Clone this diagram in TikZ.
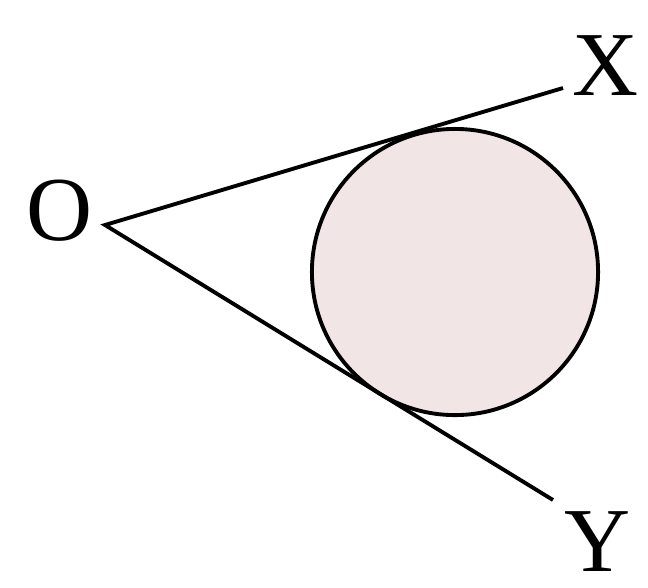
\documentclass[tikz,border=0pt]{standalone}
\usepackage{fontspec}
\setmainfont{Liberation Serif}
\usetikzlibrary{positioning}
\definecolor{discfill}{RGB}{241,229,230}

\begin{document}
\begin{tikzpicture}[x=0.01cm,y=-0.01cm,line width=1.1pt]
\useasboundingbox (0,0) rectangle (648,587);
\node[draw,circle,fill=discfill,inner sep=0pt,minimum size=2.86cm] (disc) at (455,272) {};
\coordinate (O) at (105,225);
\coordinate (X) at (563,88);
\coordinate (Y) at (553,500);
\node[font=\fontsize{26}{30}\selectfont,inner sep=0pt] (lO) at (60,211) {O};
\node[font=\fontsize{26}{30}\selectfont,inner sep=0pt] (lX) at (606,66) {X};
\node[font=\fontsize{26}{30}\selectfont,inner sep=0pt] (lY) at (598,542) {Y};
\draw (X) -- (O) -- (Y);
\end{tikzpicture}
\end{document}
